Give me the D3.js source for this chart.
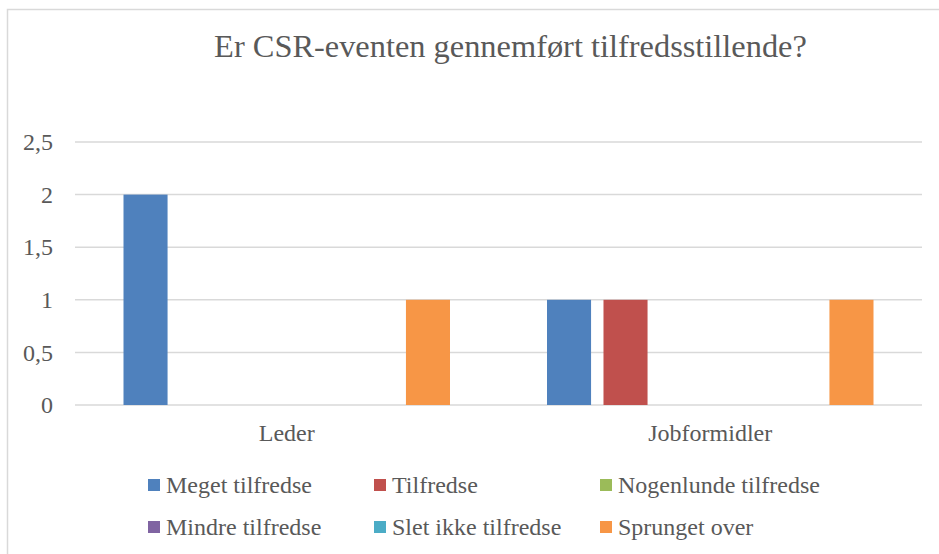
<!DOCTYPE html>
<html>
<head>
<meta charset="utf-8">
<script src="https://cdn.jsdelivr.net/npm/d3@7"></script>
</head>
<body style="margin:0; background:#fff">
<div id="chart"></div>
<script>
// chart data
let categories = ['Leder', 'Jobformidler'];
let seriesNames = ['Meget tilfredse', 'Tilfredse', 'Nogenlunde tilfredse',
                   'Mindre tilfredse', 'Slet ikke tilfredse', 'Sprunget over'];
let seriesColors = ['#4f81bd', '#c0504d', '#9bbb59', '#8064a2', '#4bacc6', '#f79646'];
let lederValues = [2, 0, 0, 0, 0, 1];
let jobformidlerValues = [1, 1, 0, 0, 0, 1];
let yTicks = [0, 0.5, 1, 1.5, 2, 2.5];
let title = 'Er CSR-eventen gennemført tilfredsstillende?';

let values = { 'Leder': lederValues, 'Jobformidler': jobformidlerValues };

let font = 'Liberation Serif';
let textColor = '#595959';
let width = 939, height = 554;
let plot = {left: 75, right: 922, top: 142, bottom: 405};

let svg = d3.select('#chart').append('svg')
    .attr('width', width)
    .attr('height', height);

// outer border of the chart area
svg.append('rect')
    .attr('x', 7.5).attr('y', 9.5)
    .attr('width', 960).attr('height', 600)
    .attr('fill', 'none')
    .attr('stroke', '#d9d9d9')
    .attr('stroke-width', 1.5);

let x0 = d3.scaleBand().domain(categories).range([plot.left, plot.right]).padding(0);
let x1 = d3.scaleBand().domain(seriesNames)
    .range([48.5, x0.bandwidth() - 48.5])
    .paddingInner(0.22).paddingOuter(0);
let y = d3.scaleLinear().domain([0, 2.5]).range([plot.bottom, plot.top]);

// gridlines
svg.append('g')
  .selectAll('line')
  .data(yTicks)
  .enter().append('line')
    .attr('x1', plot.left).attr('x2', plot.right)
    .attr('y1', d => y(d)).attr('y2', d => y(d))
    .attr('stroke', '#d9d9d9')
    .attr('stroke-width', 1.5);

// y axis labels
let yAxis = svg.append('g')
    .attr('transform', 'translate(' + (plot.left - 22) + ',0)')
    .call(d3.axisLeft(y).tickValues(yTicks).tickSize(0).tickPadding(0)
      .tickFormat(d => String(d).replace('.', ',')));
yAxis.attr('font-family', font).attr('font-size', 24);
yAxis.select('.domain').remove();
yAxis.selectAll('text')
    .attr('fill', textColor)
    .style('font-family', font)
    .style('font-size', '24px');

// bars
let groups = svg.append('g')
  .selectAll('g')
  .data(categories)
  .enter().append('g')
    .attr('transform', d => 'translate(' + x0(d) + ',0)');

groups.selectAll('rect')
  .data(c => seriesNames.map((s, i) => ({series: s, value: values[c][i], color: seriesColors[i]})))
  .enter().append('rect')
    .attr('x', d => x1(d.series))
    .attr('y', d => y(d.value))
    .attr('width', x1.bandwidth())
    .attr('height', d => y(0) - y(d.value))
    .attr('fill', d => d.color);

// category labels
svg.append('g')
  .selectAll('text')
  .data(categories)
  .enter().append('text')
    .attr('x', d => x0(d) + x0.bandwidth() / 2)
    .attr('y', 441)
    .attr('text-anchor', 'middle')
    .attr('fill', textColor)
    .style('font-family', font)
    .style('font-size', '24px')
    .text(d => d);

// title
svg.append('text')
    .attr('x', 510.5)
    .attr('y', 57)
    .attr('text-anchor', 'middle')
    .attr('fill', textColor)
    .style('font-family', font)
    .style('font-size', '32.4px')
    .text(title);

// legend
let legend = svg.append('g')
  .selectAll('g')
  .data(seriesNames)
  .enter().append('g')
    .attr('transform', (d, i) => 'translate(' + (148 + (i % 3) * 226) + ',' + (485 + Math.floor(i / 3) * 42) + ')');

legend.append('rect')
    .attr('x', 0).attr('y', -6)
    .attr('width', 12).attr('height', 12)
    .attr('fill', (d, i) => seriesColors[i]);

legend.append('text')
    .attr('x', 18)
    .attr('y', 7.5)
    .attr('fill', textColor)
    .style('font-family', font)
    .style('font-size', '24px')
    .text(d => d);
</script>
</body>
</html>
